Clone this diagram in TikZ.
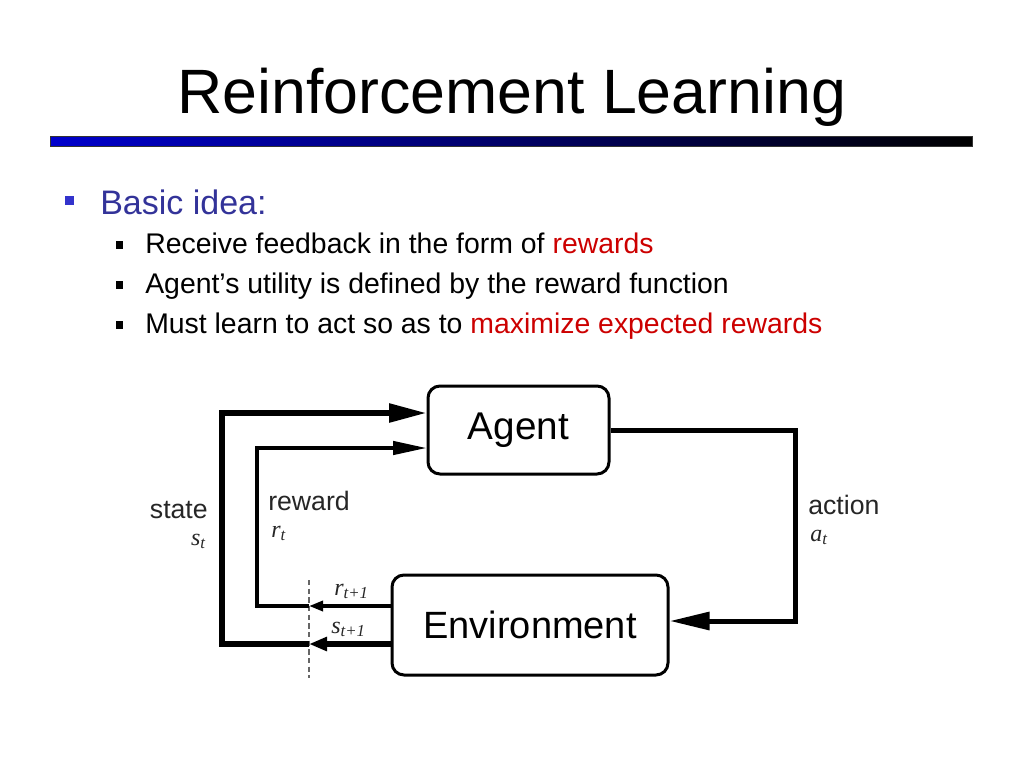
\documentclass[tikz,border=0pt]{standalone}
\usepackage{fontspec}
\setmainfont{Liberation Sans}
\newfontfamily\varfont{Liberation Serif}
\usetikzlibrary{positioning, arrows.meta, calc}
\definecolor{slideBlue}  {HTML}{333399}
\definecolor{bulletBlue} {HTML}{3333CC}
\definecolor{slideRed}   {HTML}{CC0000}
\definecolor{barBlue}    {HTML}{0000CC}
\definecolor{cutGray}    {HTML}{666666}

\tikzset{
  rlbox/.style={draw=black, line width=2.25pt, rounded corners=9pt, fill=white,
                inner sep=0pt},
  itemtext/.style={anchor=base west, inner sep=0pt, font=\fontsize{21.3}{25}\selectfont},
  flowlabel/.style={inner sep=0pt, font=\fontsize{20}{22}\selectfont, text=black!85},
  varlabel/.style={inner sep=0pt, font=\varfont\itshape\fontsize{18}{20}\selectfont, text=black!85},
  stateflow/.style={line width=4pt},
  rewardflow/.style={line width=2.5pt},
  actionflow/.style={line width=3.75pt},
}

\begin{document}
\begin{tikzpicture}[x=0.75pt, y=-0.75pt]
  \useasboundingbox (0,0) rectangle (1024,768);

  % title and bar
  \node[anchor=base west, inner sep=0pt, font=\fontsize{47}{52}\selectfont] (title)
        at (177,113) {Reinforcement Learning};
  \shadedraw[left color=barBlue, right color=black, draw=black!80, line width=0.6pt]
        (50,136) rectangle (972,146);

  % bullets
  \fill[bulletBlue] (65,196) rectangle (74,205);
  \node[anchor=base west, inner sep=0pt, text=slideBlue, font=\fontsize{25.5}{30}\selectfont]
        (basicIdea) at (100,214) {Basic idea:};
  \foreach \yy in {241,281,321}
    \fill[black] (116,\yy) rectangle (123,\yy+8);
  \node[itemtext] (itemRewards)  at (145,253) {Receive feedback in the form of \textcolor{slideRed}{rewards}};
  \node[itemtext] (itemUtility)  at (145,293) {Agent’s utility is defined by the reward function};
  \node[itemtext] (itemMaximize) at (145,333) {Must learn to act so as to \textcolor{slideRed}{maximize expected rewards}};

  % agent / environment loop
  \node[rlbox, minimum width=135.75pt, minimum height=66pt,
        font=\fontsize{29}{32}\selectfont] (agent) at (518.5,430) {Agent};
  \node[rlbox, minimum width=207pt, minimum height=75pt,
        font=\fontsize{28.5}{32}\selectfont] (env) at (530,625) {Environment};

  \coordinate (cutTop) at (309,580);
  \coordinate (cutBot) at (309,678);
  \coordinate (rCut)   at (309,606);
  \coordinate (sCut)   at (309,644);
  \coordinate (sTurn)  at (222,413);
  \coordinate (rTurn)  at (257,448);
  \coordinate (aTurn)  at (795,621);

  \draw[cutGray, line width=1.5pt, dash pattern=on 4pt off 2.5pt] (cutTop) -- (cutBot);

  \draw[stateflow, -{Triangle[length=28pt, width=13.5pt]}]
        (sCut) -| (sTurn) -- (agent.west |- sTurn);
  \draw[rewardflow, -{Triangle[length=25pt, width=10pt]}]
        (rCut) -| (rTurn) -- (agent.west |- rTurn);
  \draw[stateflow, -{Triangle[length=13.5pt, width=10pt]}]
        (env.west |- sCut) -- (sCut);
  \draw[rewardflow, -{Triangle[length=10.5pt, width=7.5pt]}]
        (env.west |- rCut) -- (rCut);
  \draw[actionflow, -{Triangle[length=30pt, width=13pt]}]
        (agent.east) -| (aTurn) -- (env.east |- aTurn);

  % labels
  \node[flowlabel, anchor=base east] (stateLbl)  at (208,518) {state};
  \node[varlabel,  anchor=base east] (stateVar)  at (206,545) {s\textsubscript{t}};
  \node[flowlabel, anchor=base west] (rewardLbl) at (268,510) {reward};
  \node[varlabel,  anchor=base west] (rewardVar) at (271,537) {r\textsubscript{t}};
  \node[flowlabel, anchor=base west] (actionLbl) at (808,514) {action};
  \node[varlabel,  anchor=base west] (actionVar) at (810,541) {a\textsubscript{t}};
  \node[varlabel,  anchor=base west] (rNext) at (334,595) {r\textsubscript{t+1}};
  \node[varlabel,  anchor=base west] (sNext) at (331,633) {s\textsubscript{t+1}};
\end{tikzpicture}
\end{document}
